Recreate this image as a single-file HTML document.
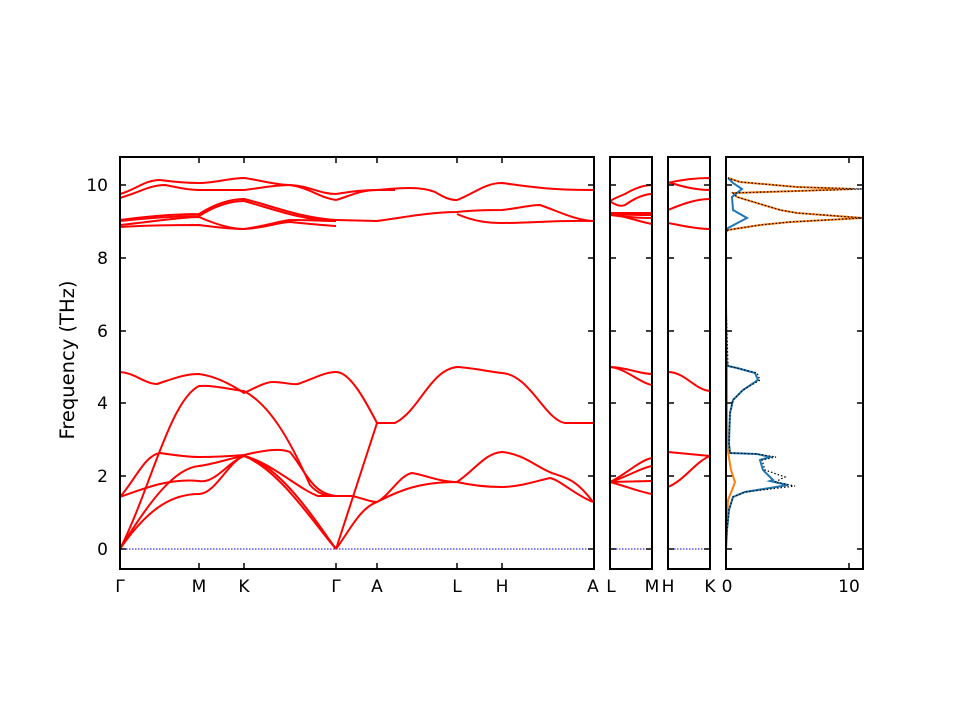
<!DOCTYPE html>
<html><head><style>body{margin:0;background:#fff}svg{display:block}text{font-family:"DejaVu Sans","Liberation Sans",sans-serif;font-size:17px;fill:#000}</style></head><body>
<svg width="960" height="720" viewBox="0 0 960 720" xmlns="http://www.w3.org/2000/svg">
<rect width="960" height="720" fill="#fff"/>
<g stroke="#00f" stroke-width="1" stroke-dasharray="1.5,1.5"><line x1="120" y1="549" x2="594" y2="549"/><line x1="610" y1="549" x2="652" y2="549"/><line x1="668" y1="549" x2="710" y2="549"/></g>
<g fill="none" stroke="#f00" stroke-width="2">
<path d="M120,549 C150,505 175,494 199,494 C215,494 228,462 244,456 C280,470 315,525 336,549"/>
<path d="M120,549 C150,500 175,468 199,466 C215,464 230,458 244,456 C280,465 315,520 336,549"/>
<path d="M120,497 C145,488 170,478 199,481 C215,484 228,462 244,456 C270,462 300,490 318,496 L336,496"/>
<path d="M120,497 C135,480 145,455 160,453 C180,456 190,457 199,457 C220,457 232,456 244,455 C265,450 280,448 290,452 C305,470 312,494 336,496"/>
<path d="M120,549 C150,490 170,400 199,386 C215,385 232,390 244,391 C270,405 290,440 310,485 C318,494 325,496 336,496"/>
<path d="M120,372 C135,373 145,384 157,384 C175,378 185,374 199,374 C215,376 232,385 244,393 C255,388 265,382 273,382 C285,382 290,385 298,384 C315,378 325,372 336,372"/>
<path d="M336,549 L377,423"/>
<path d="M336,549 C350,530 360,508 377,502"/>
<path d="M336,496 L352,496 C362,498 370,502 377,502"/>
<path d="M336,372 C350,372 365,400 377,423"/>
<path d="M377,423 L395,423 C420,410 430,370 457,367 C475,368 490,372 502,373 C530,375 545,420 565,423 L593,423"/>
<path d="M377,502 C390,495 400,475 412,473 C425,475 440,482 457,482 C475,470 485,453 502,452 C525,454 540,470 555,474 C565,478 575,478 593,502"/>
<path d="M377,502 C400,490 420,482 457,482 C470,485 485,487 502,487 C520,487 540,480 550,478 C560,480 575,495 593,502"/>
<path d="M120,194 C135,190 145,180 160,180 C175,182 185,183 199,183 C215,183 230,178 244,178 C260,180 275,185 290,185 C310,186 320,194 336,194"/>
<path d="M120,198 C140,192 150,185 165,185 C180,188 190,190 199,190 L244,190 C260,188 275,185 290,185 C310,188 320,198 336,200"/>
<path d="M120,220 C150,216 180,214 199,214 C215,204 230,199 244,199 C270,205 300,218 336,220"/>
<path d="M120,221 C150,218 180,216 199,216 C215,206 230,201 244,201 C270,208 300,220 336,221"/>
<path d="M120,225 C150,222 180,217 199,217 C215,224 230,229 244,229 C265,228 280,222 290,222 C310,224 320,225 336,226"/>
<path d="M120,227 C150,225 180,225 199,225 C215,227 230,229 244,229 C265,226 280,221 290,220 C310,220 320,221 336,221"/>
<path d="M336,194 C350,192 360,190 377,190 C400,188 420,186 435,192 C445,198 450,200 457,200 C475,193 485,183 502,183 C525,186 545,190 593,190"/>
<path d="M336,200 C350,196 360,190 377,190 L395,190"/>
<path d="M336,220 L377,221 C400,218 430,212 457,212 C475,210 490,210 502,210 C520,208 530,205 540,205 C560,212 575,220 593,221"/>
<path d="M457,214 C475,222 490,223 502,223 C530,223 560,220 593,221"/>
<path d="M610,201 C615,198 620,196 625,194 C635,188 645,185 652,185"/>
<path d="M610,201 C615,205 620,207 625,205 C635,198 645,194 652,194"/>
<path d="M610,214 C625,215 640,215 652,215"/><path d="M610,215 C625,217 640,218 652,218"/><path d="M610,214 C625,216 640,222 652,224"/><path d="M610,213 L652,213"/>
<path d="M610,367 C625,367 640,374 652,374"/><path d="M610,367 C625,368 640,383 652,385"/>
<path d="M610,482 C625,475 640,460 652,458"/><path d="M610,482 C625,478 640,468 652,466"/><path d="M610,482 L652,481"/><path d="M610,482 C625,486 640,492 652,494"/>
<path d="M668,183 C680,180 695,178 710,178"/><path d="M668,182 C680,186 695,190 710,190"/>
<path d="M668,210 C680,205 695,199 710,199"/><path d="M668,223 C680,225 695,229 710,229"/>
<path d="M668,372 C685,372 695,390 710,391"/>
<path d="M668,452 L710,456"/><path d="M668,487 C685,480 695,462 710,456"/>
</g>
<g fill="none" stroke-width="2">
<polyline stroke="#ff7f0e" points="726,549 727,520 728,500 732,490 735,482 731,470 729,458 728,452 727,420 727,366 726,300 726,232 728,230 760,225 790,222 863,218 797,213 780,210 737,197 733,193 797,191 853,189 797,187 740,182 728,178"/>
<polyline stroke="#1f77b4" points="726,549 727,530 729,510 733,497 745,492 788,485 770,481 773,480 763,470 760,460 770,457 757,454 730,453 729,443 730,413 733,400 743,390 758,380 755,373 737,368 728,366 726,360 726,232 728,228 747,218 733,210 732,197 742,189 733,183 728,178"/>
<polyline stroke="#000" stroke-width="1.2" stroke-dasharray="1.5,2" points="726,549 727,530 729,510 733,497 745,492 795,486 775,482 785,477 765,470 762,460 776,457 757,454 730,453 729,443 730,413 733,400 743,390 760,380 757,373 737,368 728,366 726,300 726,232 728,230 760,225 790,222 863,218 797,213 780,210 737,197 733,193 797,191 863,189 797,187 740,182 728,178"/>
</g>
<g fill="none" stroke="#000" stroke-width="2">
<rect x="120" y="157" width="474" height="412"/><rect x="610" y="157" width="42" height="412"/><rect x="668" y="157" width="42" height="412"/><rect x="726" y="157" width="137" height="412"/>
</g>
<g stroke="#000" stroke-width="1.5">
<path d="M120,549h6M120,476h6M120,403h6M120,331h6M120,258h6M120,185h6 M594,549h-6M594,476h-6M594,403h-6M594,331h-6M594,258h-6M594,185h-6"/>
<path d="M610,549h6M610,476h6M610,403h6M610,331h6M610,258h6M610,185h6 M652,549h-6M652,476h-6M652,403h-6M652,331h-6M652,258h-6M652,185h-6"/>
<path d="M668,549h6M668,476h6M668,403h6M668,331h6M668,258h6M668,185h6 M710,549h-6M710,476h-6M710,403h-6M710,331h-6M710,258h-6M710,185h-6"/>
<path d="M726,549h6M726,476h6M726,403h6M726,331h6M726,258h6M726,185h6 M863,549h-6M863,476h-6M863,403h-6M863,331h-6M863,258h-6M863,185h-6"/>
<path d="M199,569v-6M244,569v-6M336,569v-6M377,569v-6M457,569v-6M502,569v-6M199,157v6M244,157v6M336,157v6M377,157v6M457,157v6M502,157v6M849,569v-6M849,157v6"/>
</g>
<g text-anchor="end"><text x="108" y="555">0</text><text x="108" y="482">2</text><text x="108" y="409">4</text><text x="108" y="337">6</text><text x="108" y="264">8</text><text x="108" y="191">10</text></g>
<g text-anchor="middle"><text x="120" y="592">Γ</text><text x="199" y="592">M</text><text x="244" y="592">K</text><text x="336" y="592">Γ</text><text x="377" y="592">A</text><text x="457" y="592">L</text><text x="502" y="592">H</text><text x="593" y="592">A</text><text x="611" y="592">L</text><text x="652" y="592">M</text><text x="668" y="592">H</text><text x="710" y="592">K</text><text x="727" y="592">0</text><text x="849" y="592">10</text></g>
<text x="74" y="360" text-anchor="middle" transform="rotate(-90 74 360)" style="font-size:19.5px">Frequency (THz)</text>
</svg>
</body></html>
